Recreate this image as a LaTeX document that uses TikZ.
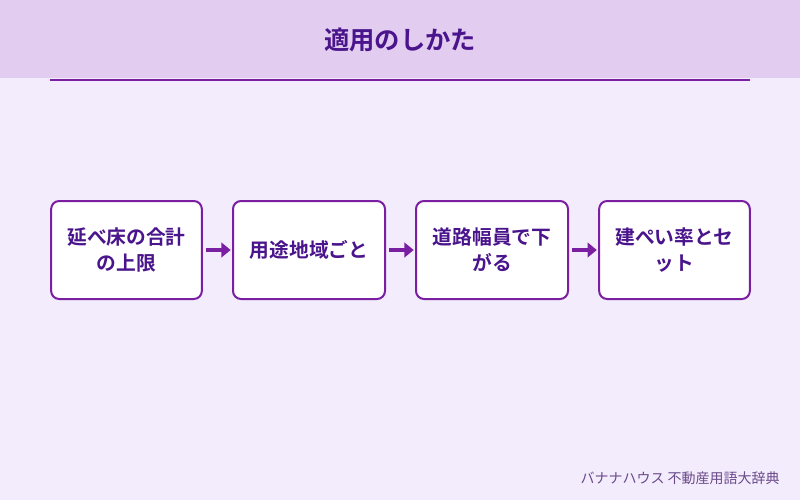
\documentclass[tikz,border=0pt]{standalone}
\usepackage{fontspec}
\setmainfont{Noto Sans CJK JP}
\newfontfamily\jpb{Noto Sans CJK JP}[BoldFont={* Bold}]
\usetikzlibrary{arrows.meta}
\definecolor{bg}{HTML}{F3ECFC}
\definecolor{hd}{HTML}{E2CDF0}
\definecolor{pu}{HTML}{7B1FA2}
\definecolor{dk}{HTML}{4A148C}
\definecolor{ft}{HTML}{6A4A8A}
\begin{document}
\begin{tikzpicture}[x=0.75pt,y=-0.75pt,
 box/.style={draw=pu,line width=1.5pt,fill=white,rounded corners=6pt,text width=92pt,align=center,font=\jpb\bfseries\fontsize{14.8}{19.5}\selectfont,text=dk,inner sep=0pt,minimum height=73.5pt},
 arr/.style={draw=pu,line width=3pt,-{Triangle[length=7pt,width=11pt]}}]
\fill[bg] (0,0) rectangle (800,500);
\fill[hd] (0,0) rectangle (800,78);
\node[font=\jpb\bfseries\fontsize{19}{22}\selectfont,text=dk] (title) at (400,40) {適用のしかた};
\draw[pu,line width=1.2pt] (50,80) coordinate (l1) -- (750,80) coordinate (l2);
\node[box,minimum width=113pt] (b1) at (126.5,250) {延べ床の合計\\の上限};
\node[box,minimum width=114pt] (b2) at (309,250) {用途地域ごと};
\node[box,minimum width=114pt] (b3) at (492,250) {道路幅員で下\\がる};
\node[box,minimum width=113pt] (b4) at (674.5,250) {建ぺい率とセ\\ット};
\draw[arr] (b1.east)++(3,0) -- ([xshift=-1pt]b2.west);
\draw[arr] (b2.east)++(3,0) -- ([xshift=-1pt]b3.west);
\draw[arr] (b3.east)++(3,0) -- ([xshift=-1pt]b4.west);
\node[anchor=east,inner sep=0pt,font=\fontsize{10.5}{12}\selectfont,text=ft] (foot) at (780,478) {バナナハウス 不動産用語大辞典};
\end{tikzpicture}
\end{document}
